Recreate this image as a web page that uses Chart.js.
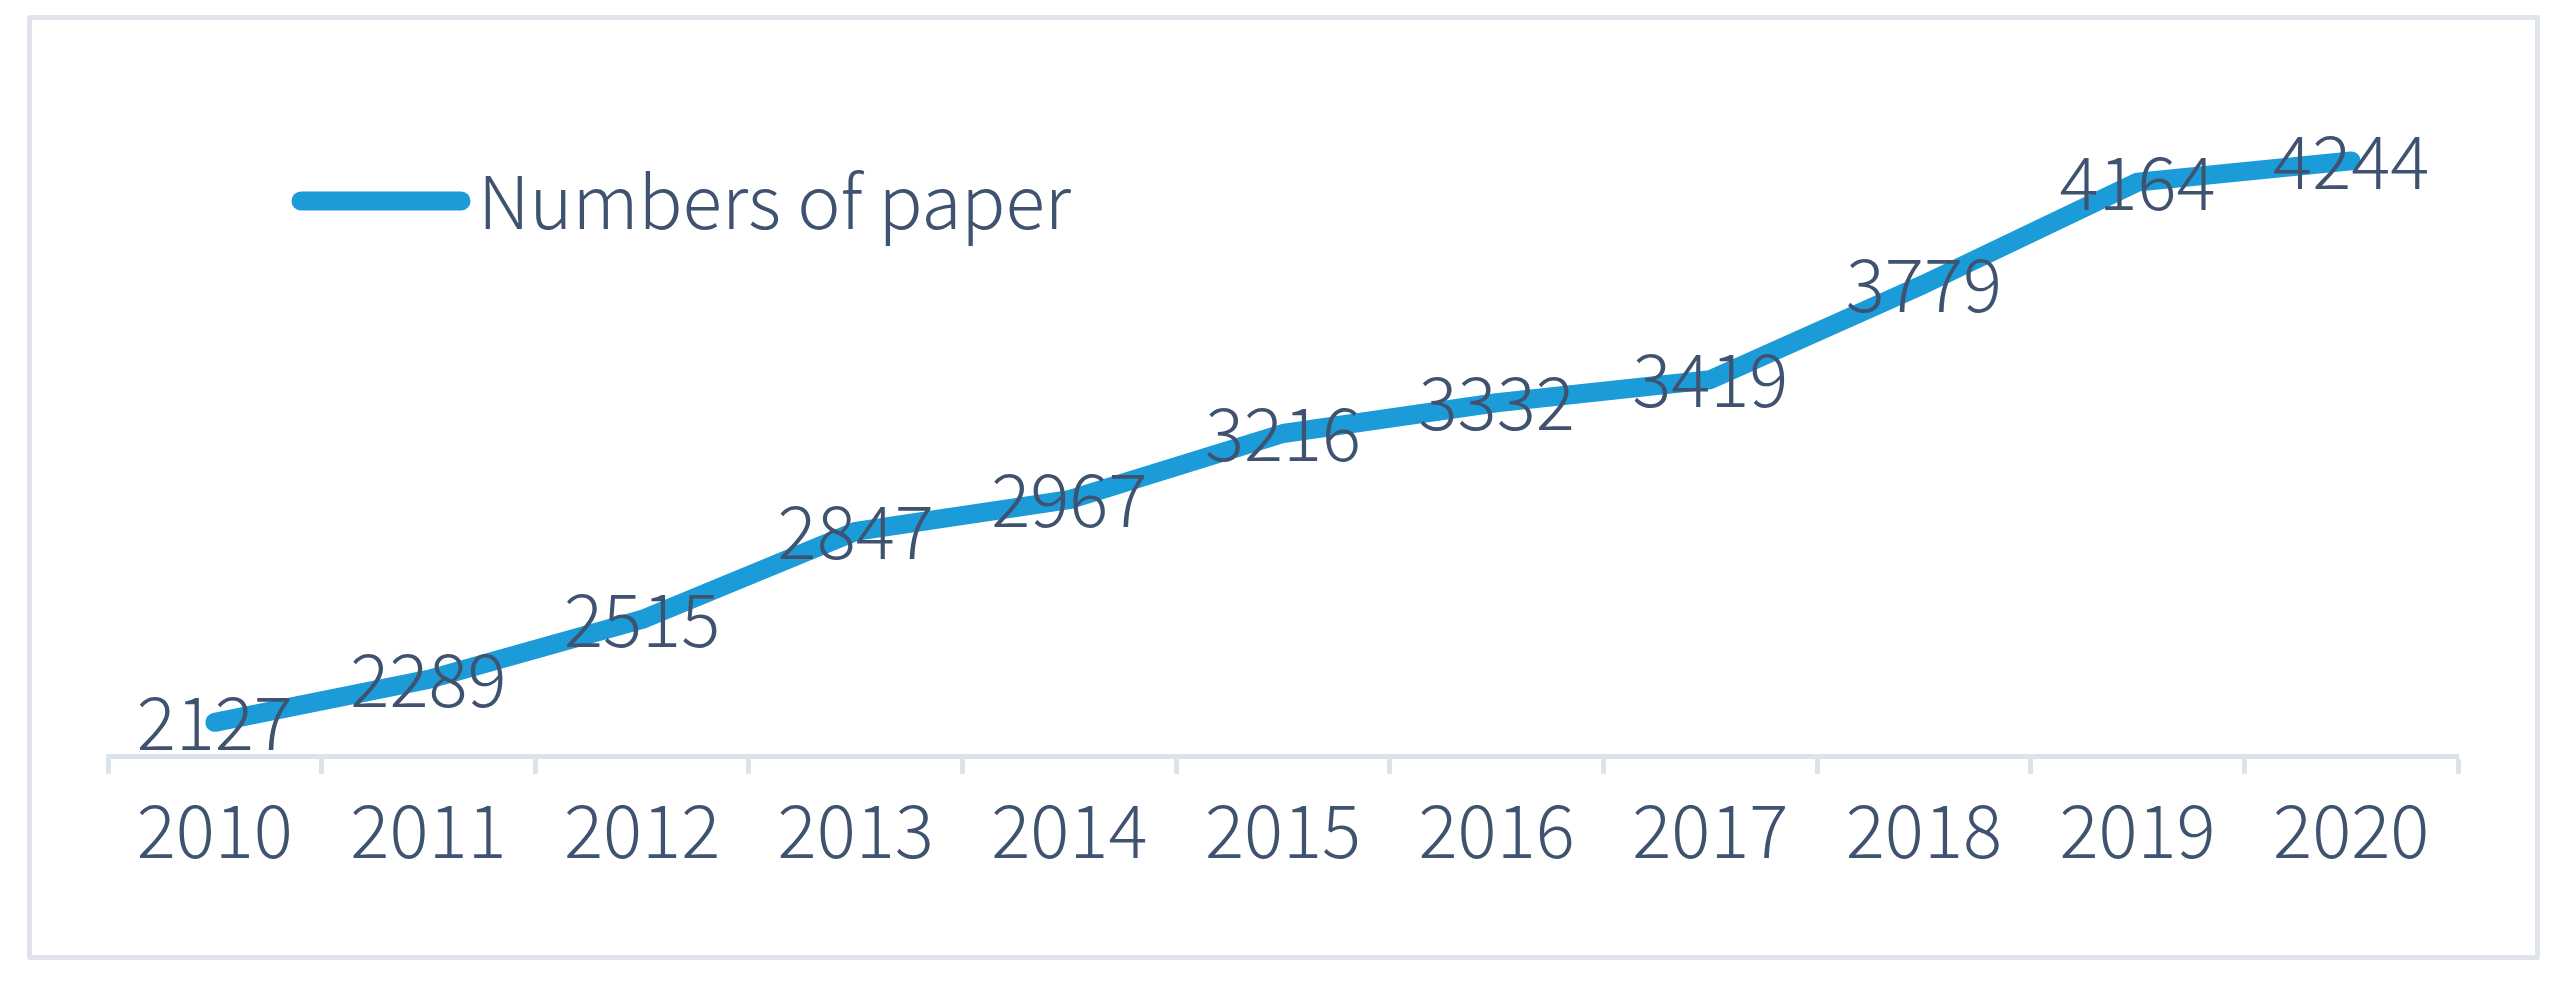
<!DOCTYPE html>
<html>
<head>
<meta charset="utf-8">
<script src="https://cdn.jsdelivr.net/npm/chart.js@4.4.1/dist/chart.umd.min.js"></script>
<style>
  html, body { margin: 0; padding: 0; background: #fff; }
  #frame {
    position: absolute; left: 27px; top: 15px;
    width: 2513px; height: 945px; box-sizing: border-box;
    border: 5px solid #dee4ea; border-radius: 3px;
  }
  #wrap { position: absolute; left: 0; top: 0; width: 2575px; height: 983px; }
</style>
</head>
<body>
<div id="frame"></div>
<div id="wrap"><canvas id="myChart"></canvas></div>
<script>
// data
const years = ['2010', '2011', '2012', '2013', '2014', '2015', '2016', '2017', '2018', '2019', '2020'];
const paperCounts = [2127, 2289, 2515, 2847, 2967, 3216, 3332, 3419, 3779, 4164, 4244];
const seriesName = 'Numbers of paper';
const yMin = 2000;
const yMax = 4500;

const lineColor = '#1b9bd7';
const textColor = '#3f5270';
const axisColor = '#dde3ea';
const fontFamily = '"Noto Sans CJK SC", "Noto Sans", sans-serif';
const fontSize = 73;
const fontWeight = 300;

// value labels centred on each point
const pointLabels = {
    id: 'pointLabels',
    afterDatasetsDraw(chart) {
        const ctx = chart.ctx;
        const meta = chart.getDatasetMeta(0);
        ctx.save();
        ctx.font = fontWeight + ' ' + fontSize + 'px ' + fontFamily;
        ctx.fillStyle = textColor;
        ctx.textAlign = 'center';
        ctx.textBaseline = 'middle';
        meta.data.forEach((pt, i) => {
            ctx.fillText(String(chart.data.datasets[0].data[i]), pt.x, pt.y);
        });
        ctx.restore();
    }
};

// legend sits inside the plot, top left
const innerLegend = {
    id: 'innerLegend',
    afterDraw(chart) {
        const ctx = chart.ctx;
        const ds = chart.data.datasets[0];
        const area = chart.chartArea;
        const x0 = area.left + 193;
        const y0 = area.top + 108;
        ctx.save();
        ctx.strokeStyle = ds.borderColor;
        ctx.lineWidth = ds.borderWidth;
        ctx.lineCap = 'round';
        ctx.beginPath();
        ctx.moveTo(x0, y0);
        ctx.lineTo(x0 + 160, y0);
        ctx.stroke();
        ctx.font = fontWeight + ' ' + fontSize + 'px ' + fontFamily;
        ctx.fillStyle = textColor;
        ctx.textAlign = 'left';
        ctx.textBaseline = 'middle';
        ctx.fillText(ds.label, x0 + 177, y0);
        ctx.restore();
    }
};

const ctx = document.getElementById('myChart');

new Chart(ctx, {
    type: 'line',
    data: {
        labels: years,
        datasets: [{
            label: seriesName,
            data: paperCounts,
            borderColor: lineColor,
            backgroundColor: lineColor,
            borderWidth: 19,
            borderCapStyle: 'round',
            borderJoinStyle: 'round',
            tension: 0,
            pointRadius: 0,
            fill: false
        }]
    },
    options: {
        responsive: true,
        maintainAspectRatio: false,
        animation: false,
        devicePixelRatio: 1,
        layout: {
            padding: { left: 108, right: 117, top: 93, bottom: 0 }
        },
        plugins: {
            legend: { display: false },
            tooltip: { enabled: false }
        },
        scales: {
            x: {
                offset: true,
                grid: {
                    offset: true,
                    drawOnChartArea: false,
                    drawTicks: true,
                    tickLength: 18,
                    tickWidth: 5,
                    tickColor: axisColor
                },
                border: { display: true, color: axisColor, width: 5 },
                ticks: {
                    color: textColor,
                    padding: 20,
                    font: { family: fontFamily, size: fontSize, weight: fontWeight, lineHeight: 1 }
                },
                afterFit: (scale) => { scale.height = 227; }
            },
            y: {
                display: false,
                min: yMin,
                max: yMax
            }
        }
    },
    plugins: [pointLabels, innerLegend]
});
</script>
</body>
</html>
